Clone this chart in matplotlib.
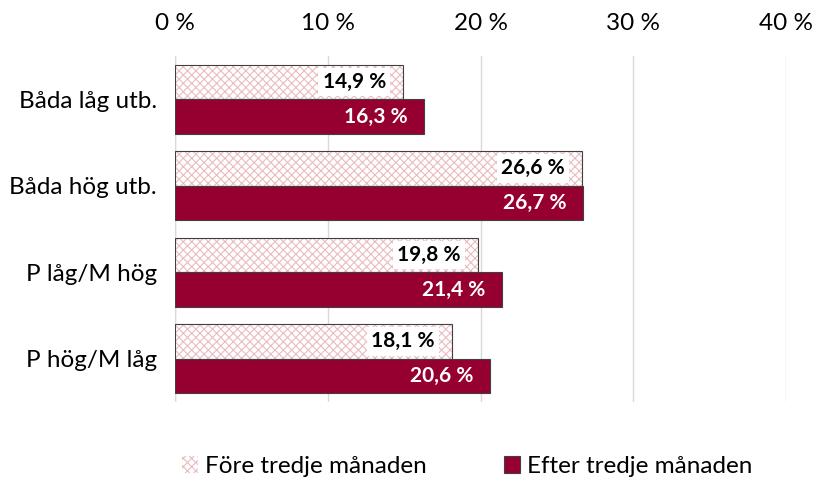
import matplotlib
matplotlib.use('Agg')
import matplotlib.pyplot as plt
import numpy as np

plt.rcParams['font.family'] = ['Lato', 'DejaVu Sans']
plt.rcParams['hatch.linewidth'] = 0.8

categories = ['Båda låg utb.', 'Båda hög utb.', 'P låg/M hög', 'P hög/M låg']
fore = [14.9, 26.6, 19.8, 18.1]
efter = [16.3, 26.7, 21.4, 20.6]
series_names = ['Före tredje månaden', 'Efter tredje månaden']
xticks = [0, 10, 20, 30, 40]

red = '#960031'
fig = plt.figure(figsize=(8.14, 4.82), dpi=100)
ax = fig.add_axes([0.215, 0.166, 0.751, 0.718])

y = np.arange(len(categories))
h = 0.4
b1 = ax.barh(y - h/2, fore, height=h, color='white', edgecolor='#ebbcbf',
             hatch='xxxx', linewidth=0)
# outline drawn separately so hatch keeps its pink colour
ax.barh(y - h/2, fore, height=h, fill=False, edgecolor='#404040', linewidth=0.8)
b2 = ax.barh(y + h/2, efter, height=h, color=red, edgecolor='#404040', linewidth=0.8)

def fmt(v):
    return f'{v:.1f} %'.replace('.', ',')

for yy, v in zip(y - h/2, fore):
    ax.text(v - 1.1, yy, fmt(v), ha='right', va='center', fontsize=15,
            fontweight='bold', color='black',
            bbox=dict(boxstyle='square,pad=0.2', fc='white', ec='none'))
for yy, v in zip(y + h/2, efter):
    ax.text(v - 1.1, yy, fmt(v), ha='right', va='center', fontsize=15,
            fontweight='bold', color='white')

ax.set_xlim(0, 40)
ax.set_ylim(len(categories) - 0.5, -0.5)
ax.set_xticks(xticks)
ax.set_xticklabels([f'{t} %' for t in xticks])
ax.xaxis.tick_top()
ax.set_yticks(y)
ax.set_yticklabels(categories)
ax.tick_params(axis='both', length=0, labelsize=17.5)
ax.tick_params(axis='x', pad=16)
ax.tick_params(axis='y', pad=13)
ax.grid(axis='x', color='#d9d9d9', linewidth=1)
ax.set_axisbelow(True)
for s in ax.spines.values():
    s.set_visible(False)
ax.axvline(0, color='#d9d9d9', linewidth=1, zorder=0)

leg = fig.legend([b1, b2], series_names, loc='lower center', ncol=2,
                 frameon=False, fontsize=17.5, bbox_to_anchor=(0.574, -0.035),
                 handlelength=0.65, handleheight=0.65, handletextpad=0.3,
                 columnspacing=3.15)

fig.savefig('out.png', dpi=100)
